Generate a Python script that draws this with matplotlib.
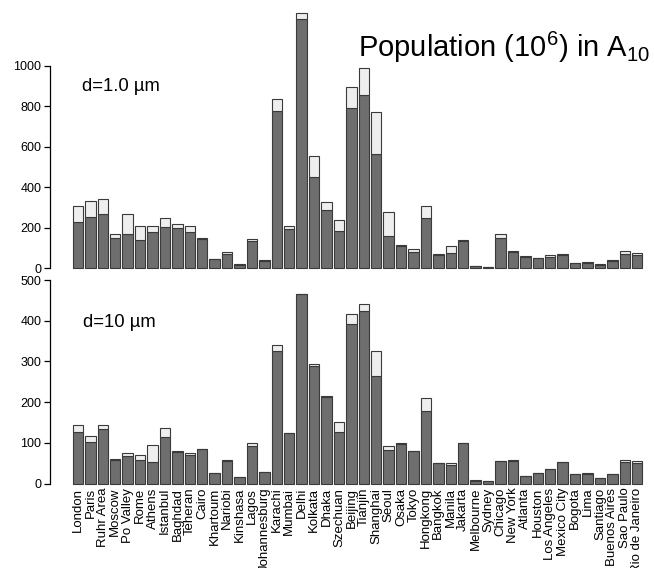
import numpy as np
import matplotlib
matplotlib.use("Agg")
import matplotlib.pyplot as plt

plt.rcParams["font.family"] = ["Liberation Sans", "DejaVu Sans"]
plt.rcParams["mathtext.fontset"] = "custom"
plt.rcParams["mathtext.rm"] = "Liberation Sans"
plt.rcParams["mathtext.it"] = "Liberation Sans"

cities = ["London", "Paris", "Ruhr Area", "Moscow", "Po Valley", "Rome", "Athens",
          "Istanbul", "Baghdad", "Teheran", "Cairo", "Khartoum", "Nariobi", "Kinshasa",
          "Lagos", "Johannesburg", "Karachi", "Mumbai", "Delhi", "Kolkata", "Dhaka",
          "Szechuan", "Beijing", "Tianjin", "Shanghai", "Seoul", "Osaka", "Tokyo",
          "Hongkong", "Bangkok", "Manila", "Jakarta", "Melbourne", "Sydney", "Chicago",
          "New York", "Atlanta", "Houston", "Los Angeles", "Mexico City", "Bogota",
          "Lima", "Santiago", "Buenos Aires", "Sao Paulo", "Rio de Janeiro"]

# d = 1.0 um : dark part and total height
d1_low = [230, 252, 266, 150, 168, 141, 178, 202, 197, 181, 143, 44, 71, 18,
          133, 36, 776, 194, 1229, 449, 288, 184, 791, 855, 564, 158, 112, 79,
          248, 67, 77, 135, 10, 7, 148, 79, 58, 51, 56, 67, 25, 28, 18, 36, 71, 67]
d1_tot = [306, 331, 340, 168, 266, 207, 210, 247, 220, 210, 151, 48, 82, 20,
          145, 43, 836, 209, 1261, 556, 326, 237, 893, 988, 773, 278, 113, 95,
          308, 69, 109, 138, 13, 8, 171, 87, 61, 53, 64, 71, 26, 30, 20, 39, 87, 76]

# d = 10 um
d10_low = [128, 102, 135, 59, 68, 58, 54, 115, 77, 70, 85, 26, 56, 16,
           93, 29, 326, 124, 466, 290, 213, 126, 392, 423, 264, 82, 98, 80,
           179, 51, 46, 100, 7, 7, 56, 56, 20, 27, 35, 53, 24, 24, 14, 25, 53, 52]
d10_tot = [144, 116, 144, 60, 75, 70, 94, 137, 80, 75, 86, 26, 59, 16,
           99, 29, 340, 124, 466, 293, 216, 151, 416, 442, 326, 93, 100, 80,
           210, 52, 52, 101, 8, 7, 56, 58, 20, 27, 35, 53, 24, 26, 14, 25, 58, 56]

dark = "#6e6e6e"
light = "#eeeeee"
edge = "#3a3a3a"

W, H = 654, 568
fig = plt.figure(figsize=(W / 100, H / 100), dpi=100)

x = 0.7 + 1.2 * np.arange(len(cities))


def panel(rect, low, tot, ylim, top, ticks):
    ax = fig.add_axes(rect)
    low = np.array(low)
    tot = np.array(tot)
    ax.bar(x, low, width=1.0, color=dark, edgecolor=edge, linewidth=0.8)
    ax.bar(x, tot - low, bottom=low, width=1.0, color=light, edgecolor=edge, linewidth=0.8)
    ax.set_xlim(-2.0, 56.32)
    ax.set_ylim(*ylim)
    for s in ["top", "right", "bottom"]:
        ax.spines[s].set_visible(False)
    ax.spines["left"].set_bounds(0, top)
    ax.spines["left"].set_linewidth(0.9)
    ax.set_yticks(ticks)
    ax.tick_params(axis="y", length=4.2, width=0.9, labelsize=9, pad=2)
    ax.patch.set_visible(False)
    return ax


ax1 = panel([50 / W, 1 - 275 / H, 604 / W, 270 / H], d1_low, d1_tot,
            (-33.1, 1299.6), 1000, [0, 200, 400, 600, 800, 1000])
ax1.set_xticks([])

ax2 = panel([50 / W, 1 - 490 / H, 604 / W, 214 / H], d10_low, d10_tot,
            (-15.5, 509.9), 500, [0, 100, 200, 300, 400, 500])
ax2.set_xticks(x)
ax2.set_xticklabels(cities, rotation=90, va="top", ha="center", fontsize=9.5)
ax2.tick_params(axis="x", length=0, pad=-1.7)

fig.text(650 / W, 1 - 57 / H, r"Population (10$^6$) in A$_{10}$", fontsize=21,
         ha="right", va="baseline")
fig.text(82 / W, 1 - 90.7 / H, "d=1.0 µm", fontsize=13.3, ha="left", va="baseline")
fig.text(83 / W, 1 - 326.7 / H, "d=10 µm", fontsize=13.3, ha="left", va="baseline")

fig.savefig("out.png", dpi=100)
